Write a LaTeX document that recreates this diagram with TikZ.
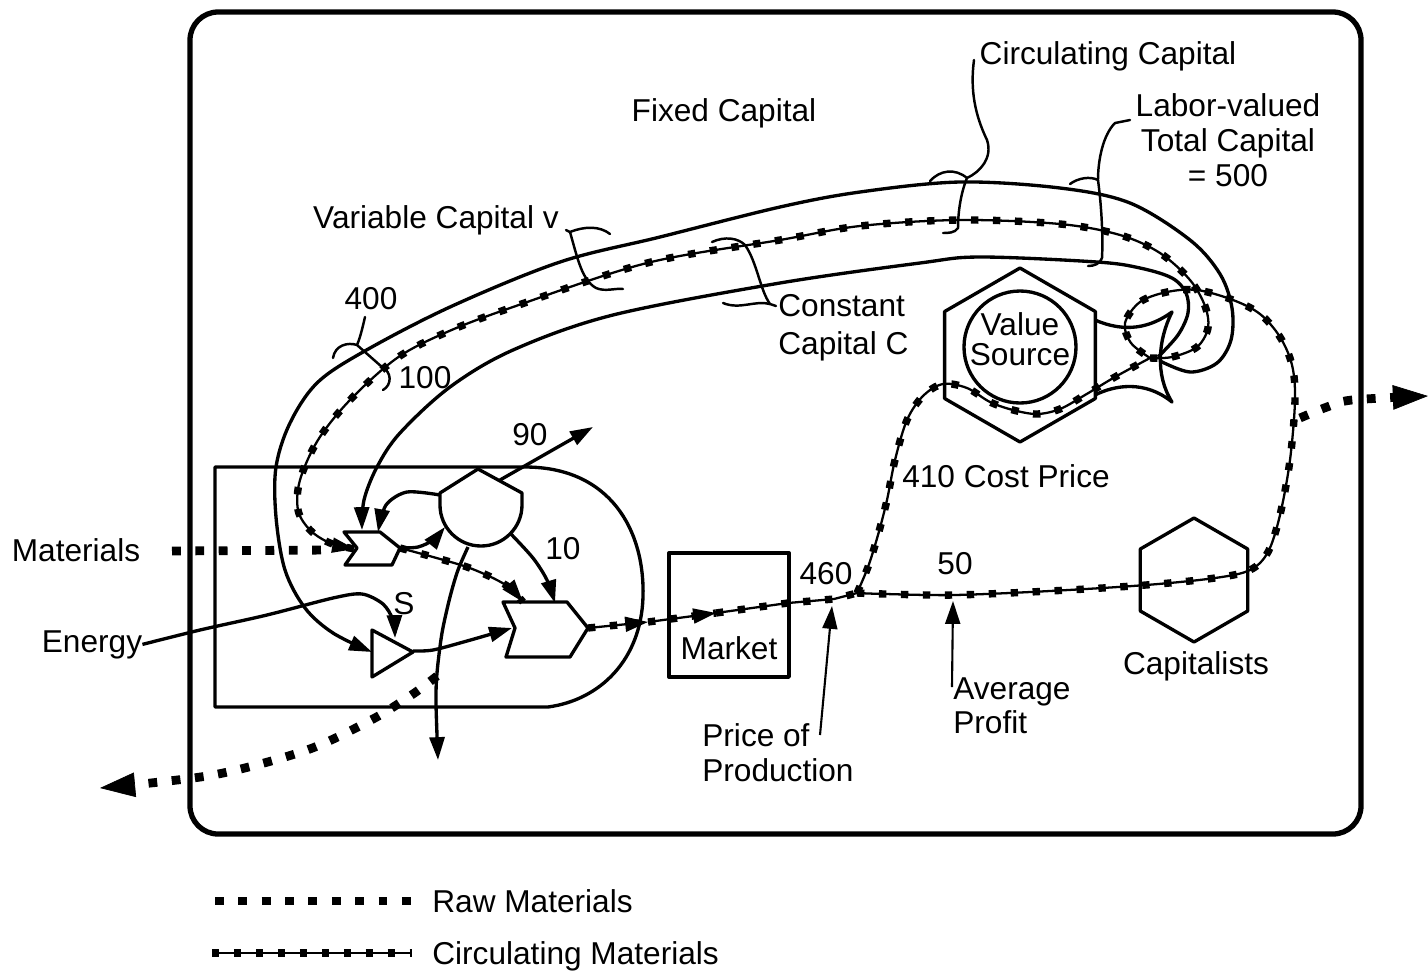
\documentclass[tikz,border=0pt]{standalone}
\usepackage{fontspec}
\setmainfont{Liberation Sans}
\usetikzlibrary{arrows.meta}
\tikzset{
  lbl/.style={font=\fontsize{18}{20}\selectfont, inner sep=0pt},
  symb/.style={line width=1.9pt, line join=round},
  flowline/.style={line width=1.9pt},
  thinline/.style={line width=1.2pt},
  flowarrow/.style={-{Triangle[length=13pt,width=8.5pt]}},
  bigarrow/.style={-{Triangle[length=20pt,width=14pt,line width=0.4pt]}},
  rawline/.style={line width=5pt, dash pattern=on 5pt off 8.3pt},
  circline/.style={line width=1.3pt, postaction={draw, arrows=-, line width=4.2pt, dash pattern=on 4.2pt off 8.3pt}},
  bracket/.style={line width=1.4pt, line cap=round},
}
\begin{document}
\begin{tikzpicture}[x=0.02cm,y=-0.02cm]
\useasboundingbox (0,0) rectangle (1428,971);

\draw[line width=3pt,rounded corners=16pt] (190,12) rectangle (1361,834);

% production unit and its parts
\draw[symb] (215,707) -- (215,467) -- (525,467) .. controls (610,467) and (645,530) .. (643,597)
      .. controls (641,660) and (600,700) .. (548,707) -- cycle;
\draw[symb] (344,532) -- (380,532) -- (400,548) -- (392,565) -- (345,565) -- (357,548) -- cycle;
\draw[symb] (503,602) -- (567,602) -- (588,628) -- (570,657) -- (506,657) -- (515,628) -- cycle;
\draw[symb] (372,630) -- (413,652) -- (372,677) -- cycle;
\draw[symb] (522,505) -- (522,493) -- (478,469) -- (440,493) -- (440,505) arc (180:0:41) -- cycle;

\coordinate (spIn) at (355,549);   \coordinate (spTop) at (362,530);
\coordinate (spTopB) at (378,532); \coordinate (spOut) at (400,548);
\coordinate (bpIn) at (512,628);   \coordinate (bpTop) at (523,602);
\coordinate (bpTopB) at (555,603); \coordinate (bpOut) at (588,628);
\coordinate (trIn) at (372,652);   \coordinate (trTop) at (395,638);
\coordinate (trOut) at (413,651);
\coordinate (csL) at (440,495);    \coordinate (csIn) at (445,527);
\coordinate (csR) at (510,533);    \coordinate (csUR) at (500,480);
\coordinate (csB) at (468,547);    \coordinate (out90) at (593,427);
\coordinate (jn) at (857,593);     \coordinate (star) at (1150,358);

% market, value source, capitalists
\draw[symb] (669,553) rectangle (789,677);
\draw[symb] (1020,355) +(30:87) \foreach \a in {90,150,...,390} { -- +(\a:87) } -- cycle;
\draw[symb] (1020,347) circle (56);
\draw[symb] (1095,320) .. controls (1125,333) and (1150,328) .. (1172,312)
      .. controls (1158,340) and (1155,375) .. (1172,402)
      .. controls (1145,380) and (1115,385) .. (1095,395);
\draw[symb] (1194,580) +(30:62) \foreach \a in {90,150,...,390} { -- +(\a:62) } -- cycle;

% texts
\node[lbl,anchor=base] (fixed) at (724,121) {Fixed Capital};
\node[lbl,anchor=base] (circcap) at (1108,64) {Circulating Capital};
\node[lbl,align=center,anchor=north] (labor) at (1228,93) {Labor-valued\\Total Capital\\= 500};
\node[lbl,anchor=base] (varcap) at (436,228) {Variable Capital v};
\node[lbl,anchor=base] (n400) at (371,309) {400};
\node[lbl,anchor=base] (n100) at (425,388) {100};
\node[lbl,align=left,anchor=north west,font=\fontsize{18}{21.5}\selectfont] (const) at (778,294) {Constant\\Capital C};
\node[lbl,align=center,anchor=north,font=\fontsize{18}{17}\selectfont] (vsrc) at (1020,312) {Value\\Source};
\node[lbl,anchor=base] (n90) at (530,445) {90};
\node[lbl,anchor=base] (n10) at (563,559) {10};
\node[lbl,anchor=base] (s) at (404,614) {S};
\node[lbl,anchor=base] (materials) at (76,561) {Materials};
\node[lbl,anchor=base] (energy) at (92,652) {Energy};
\node[lbl,anchor=base] (market) at (729,659) {Market};
\node[lbl,anchor=base] (n460) at (826,584) {460};
\node[lbl,anchor=base] (n50) at (955,574) {50};
\node[lbl,anchor=base] (cost) at (1006,487) {410 Cost Price};
\node[lbl,anchor=base] (capitalists) at (1196,674) {Capitalists};
\node[lbl,align=left,anchor=north west,font=\fontsize{18}{19.3}\selectfont] (avg) at (953,677) {Average\\Profit};
\node[lbl,align=left,anchor=north west,font=\fontsize{18}{19.8}\selectfont] (price) at (702,723) {Price of\\Production};
\node[lbl,anchor=base west] (rawlbl) at (432,912) {Raw Materials};
\node[lbl,anchor=base west] (circlbl) at (432,964) {Circulating Materials};

% the three capital loops
\draw[flowline,flowarrow] plot[smooth,tension=0.55] coordinates {(1160,361) (1190,372) (1217,363) (1231,340)
      (1232,308) (1220,274) (1190,240) (1130,203) (1060,188) (960,182) (860,192) (780,207) (660,237)
      (560,262) (450,307) (363,352) (317,383) (290,423) (276,467) (276,517) (285,570) (305,608)
      (333,633) (trIn)};
\draw[circline,flowarrow] plot[smooth,tension=0.55] coordinates {(star) (1172,357) (1197,347) (1208,328)
      (1205,306) (1190,280) (1160,253) (1120,235) (1060,224) (960,220) (860,226) (780,240) (647,263)
      (513,307) (447,332) (397,358) (350,400) (318,440) (300,480) (298,510) (310,530) (330,543) (spIn)};
\draw[flowline,flowarrow] plot[smooth,tension=0.55] coordinates {(1158,357) (1178,335) (1188,313)
      (1186,293) (1172,278) (1140,268) (1097,262) (980,257) (920,263) (780,283) (613,315) (513,350)
      (450,387) (400,433) (377,467) (364,500) (spTop)};

% flows in the production unit
\draw[flowline,flowarrow] plot[smooth] coordinates {(csL) (407,492) (386,505) (spTopB)};
\draw[flowline,flowarrow] plot[smooth] coordinates {(spOut) (418,547) (433,540) (csIn)};
\draw[circline,flowarrow] plot[smooth] coordinates {(spOut) (433,557) (467,567) (493,578) (510,588) (bpTop)};
\draw[flowline,flowarrow] plot[smooth] coordinates {(csR) (533,558) (547,580) (bpTopB)};
\draw[flowline,flowarrow] (csUR) -- (out90);
\draw[flowline,flowarrow] plot[smooth] coordinates {(csB) (458,570) (450,597) (442,633) (437,673) (436,703) (438,760)};
\draw[flowline,flowarrow] plot[smooth] coordinates {(energy.east) (200,630) (267,615) (333,598) (362,594) (383,604) (393,620) (trTop)};
\draw[flowline,flowarrow] plot[smooth] coordinates {(trOut) (433,650) (467,641) (bpIn)};
\draw[rawline] (172,551) -- (332,550);

% to the market and back to the source
\coordinate (m1) at (648,622);
\coordinate (m2) at (716,613);
\draw[circline,flowarrow] (bpOut) -- (m1);
\draw[circline,flowarrow] (m1) -- (m2);
\draw[circline] (m2) -- (788,603) -- (834,599) -- (jn);
\draw[circline] plot[smooth,tension=0.55] coordinates {(jn) (868,567) (878,535) (887,500) (895,460)
      (907,420) (923,396) (943,384) (967,388) (990,402) (1013,410) (1037,414) (1060,409) (1085,395)
      (1115,377) (star)};
\draw[circline] plot[smooth,tension=0.55] coordinates {(jn) (885,594) (954,595) (1050,591) (1146,585)
      (1215,578) (1250,570) (1268,552) (1280,515) (1290,460) (1295,400) (1292,365) (1280,337)
      (1260,314) (1233,300) (1197,290) (1167,292) (1140,302) (1125,323) (1131,343) (star)};

% outputs
\draw[rawline,bigarrow] plot[smooth] coordinates {(437,676) (413,694) (373,719) (307,750) (213,775) (100,788)};
\draw[rawline,bigarrow] plot[smooth] coordinates {(1300,418) (1327,407) (1352,400) (1428,396)};

% label pointers
\draw[thinline,flowarrow] (820,735) -- (832,606);
\draw[thinline,flowarrow] (952,687) -- (953,601);
\draw[bracket] (570,232) .. controls (585,226) and (600,226) .. (610,234);
\draw[bracket] (566,230) -- (570,232) .. controls (578,260) and (582,280) .. (596,288)
      .. controls (605,292) and (615,288) .. (623,289);
\draw[bracket] (712,242) .. controls (725,236) and (738,238) .. (745,245)
      .. controls (757,262) and (760,290) .. (770,304) -- (776,306);
\draw[bracket] (723,303) .. controls (740,310) and (755,300) .. (770,304);
\draw[bracket] (974,60) .. controls (970,90) and (975,115) .. (987,140)
      .. controls (993,158) and (980,172) .. (967,178)
      .. controls (960,195) and (958,215) .. (958,228) .. controls (955,233) and (948,233) .. (943,233);
\draw[bracket] (930,181) .. controls (940,170) and (955,168) .. (967,178);
\draw[bracket] (1130,120) -- (1115,123) .. controls (1103,135) and (1098,160) .. (1098,180)
      .. controls (1102,210) and (1103,240) .. (1102,258) .. controls (1100,264) and (1094,266) .. (1088,266);
\draw[bracket] (1070,184) .. controls (1078,178) and (1090,176) .. (1098,180);
\draw[bracket] (365,317) .. controls (362,330) and (360,338) .. (357,345) -- (382,367)
      .. controls (392,372) and (392,385) .. (383,390);
\draw[bracket] (333,358) .. controls (335,345) and (348,342) .. (357,345);

% legend
\draw[rawline] (215,901) -- (412,901);
\draw[circline] (212,953) -- (412,953);
\end{tikzpicture}
\end{document}
